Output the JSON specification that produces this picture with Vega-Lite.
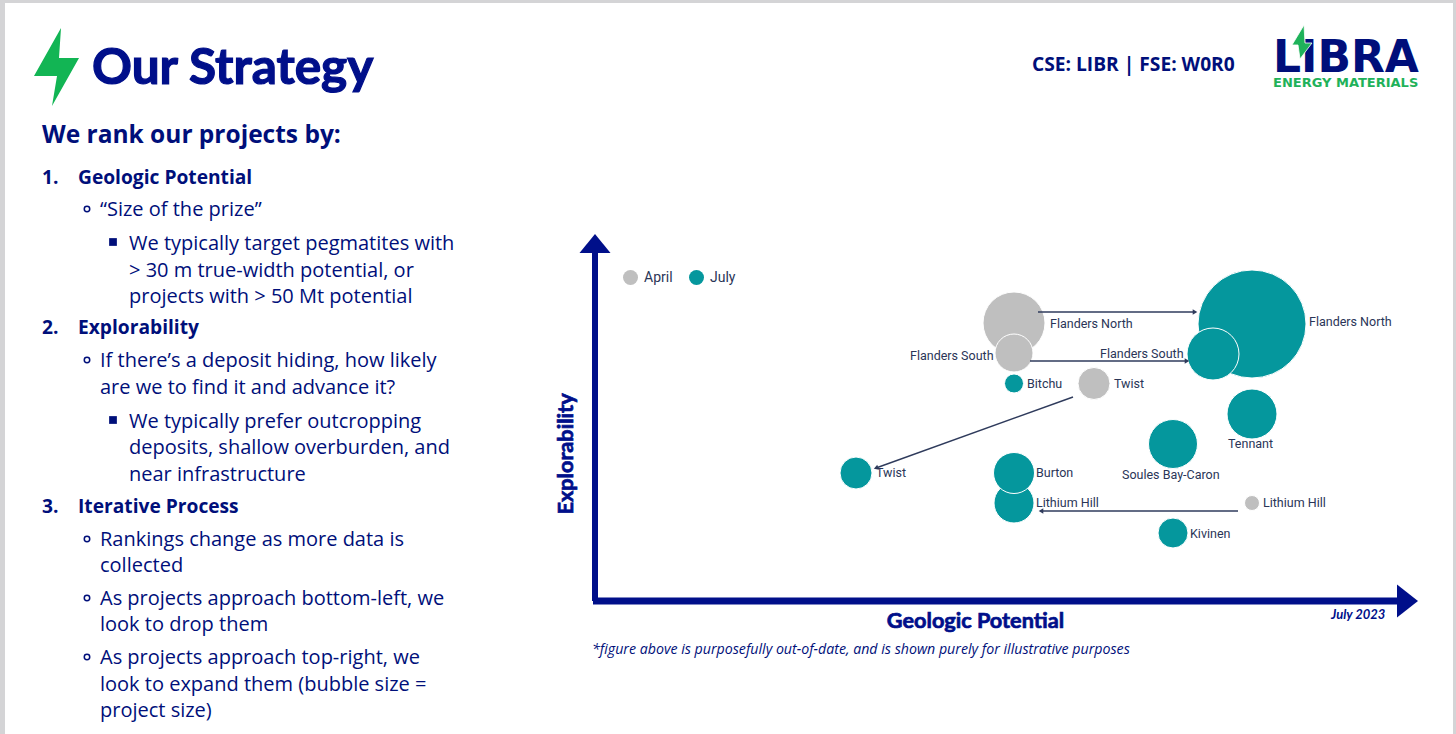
{
"$schema":"https://vega.github.io/schema/vega-lite/v6.json",
"width":1456,"height":734,
"autosize":{"type":"fit","contains":"padding"},
"padding":0,
"background":"#d4d4d6",
"config":{"view":{"stroke":null}},
"datasets":{
"sheet":[{"x":-73.75,"x2":107.25,"y":-16.625,"y2":74.75}],
"axesLines":[
{"x":-0.25,"x2":100.25,"y":0,"y2":0,"w":"x"},
{"x":0,"x2":0,"y":0,"y2":43.5,"w":"y"}],
"bubbles":[
{"project":"Flanders North","period":"April","potential":52.375,"explorability":34.75,"projectSize":3844},
{"project":"Flanders South","period":"April","potential":52.375,"explorability":31.0,"projectSize":1444},
{"project":"Twist","period":"April","potential":62.375,"explorability":27.19,"projectSize":1024},
{"project":"Lithium Hill","period":"April","potential":82.125,"explorability":12.25,"projectSize":225},
{"project":"Flanders North","period":"July","potential":82.125,"explorability":34.625,"projectSize":11664},
{"project":"Flanders South","period":"July","potential":77.25,"explorability":30.875,"projectSize":2704},
{"project":"Bitchu","period":"July","potential":52.375,"explorability":27.19,"projectSize":361},
{"project":"Tennant","period":"July","potential":82.125,"explorability":23.375,"projectSize":2500},
{"project":"Soules Bay-Caron","period":"July","potential":72.25,"explorability":19.625,"projectSize":2401},
{"project":"Lithium Hill","period":"July","potential":52.375,"explorability":12.25,"projectSize":1600},
{"project":"Burton","period":"July","potential":52.375,"explorability":16.0,"projectSize":1681},
{"project":"Twist","period":"July","potential":32.625,"explorability":16.0,"projectSize":1024},
{"project":"Kivinen","period":"July","potential":72.25,"explorability":8.5,"projectSize":900}],
"bubbleLabels":[
{"text":"Flanders North","x":56.875,"y":34.125},
{"text":"Flanders North","x":89.25,"y":34.375},
{"text":"Flanders South","x":39.375,"y":30.125},
{"text":"Flanders South","x":63.125,"y":30.375},
{"text":"Bitchu","x":54,"y":26.625},
{"text":"Twist","x":64.875,"y":26.625},
{"text":"Tennant","x":79.125,"y":19.125},
{"text":"Soules Bay-Caron","x":65.875,"y":15.25},
{"text":"Burton","x":55.125,"y":15.5},
{"text":"Lithium Hill","x":55.125,"y":11.75},
{"text":"Twist","x":35.125,"y":15.5},
{"text":"Lithium Hill","x":83.5,"y":11.75},
{"text":"Kivinen","x":74.375,"y":7.875}],
"moves":[
{"project":"Flanders North","x":55.375,"y":36.125,"x2":75,"y2":36.125,"heading":90},
{"project":"Flanders South","x":54.375,"y":30,"x2":74,"y2":30,"heading":90},
{"project":"Twist","x":59.75,"y":25.5,"x2":35.125,"y2":16.625,"heading":250},
{"project":"Lithium Hill","x":80.375,"y":11.25,"x2":55.75,"y2":11.25,"heading":270}],
"body":[
{"text":"“Size of the prize”","x":-61.875,"y":48.125},
{"text":"We typically target pegmatites with","x":-58.25,"y":43.875},
{"text":"> 30 m true-width potential, or","x":-58.25,"y":40.5},
{"text":"projects with > 50 Mt potential","x":-58.25,"y":37.25},
{"text":"If there’s a deposit hiding, how likely","x":-61.875,"y":29.25},
{"text":"are we to find it and advance it?","x":-61.875,"y":25.875},
{"text":"We typically prefer outcropping","x":-58.25,"y":21.625},
{"text":"deposits, shallow overburden, and","x":-58.25,"y":18.375},
{"text":"near infrastructure","x":-58.25,"y":15},
{"text":"Rankings change as more data is","x":-61.875,"y":6.875},
{"text":"collected","x":-61.875,"y":3.625},
{"text":"As projects approach bottom-left, we","x":-61.875,"y":-0.5},
{"text":"look to drop them","x":-61.875,"y":-3.75},
{"text":"As projects approach top-right, we","x":-61.875,"y":-7.875},
{"text":"look to expand them (bubble size =","x":-61.875,"y":-11.25},
{"text":"project size)","x":-61.875,"y":-14.5}],
"boldList":[
{"text":"1.","x":-69.125,"y":52.125},{"text":"Geologic Potential","x":-64.625,"y":52.125},
{"text":"2.","x":-69.125,"y":33.375},{"text":"Explorability","x":-64.625,"y":33.375},
{"text":"3.","x":-69.125,"y":11},{"text":"Iterative Process","x":-64.625,"y":11}],
"rings":[{"x":-63.5,"y":49},{"x":-63.5,"y":30.125},{"x":-63.5,"y":7.75},{"x":-63.5,"y":0.375},{"x":-63.5,"y":-7}],
"squares":[{"x":-60.25,"y":44.875},{"x":-60.25,"y":22.625}]
},
"data":{"name":"sheet"},
"encoding":{
"x":{"field":"x","type":"quantitative","scale":{"domain":[-74.375,107.625],"nice":false,"zero":false},"axis":null},
"y":{"field":"y","type":"quantitative","scale":{"domain":[-16.625,75.125],"nice":false,"zero":false},"axis":null}
},
"layer":[
{"mark":{"type":"rect","fill":"#ffffff"},"encoding":{"x2":{"field":"x2"},"y2":{"field":"y2"}}},
{"data":{"name":"axesLines"},"transform":[{"filter":"datum.w=='x'"}],"mark":{"type":"rule","color":"#000f8a","strokeWidth":7},"encoding":{"x2":{"field":"x2"}}},
{"data":{"name":"axesLines"},"transform":[{"filter":"datum.w=='y'"}],"mark":{"type":"rule","color":"#000f8a","strokeWidth":6},"encoding":{"y2":{"field":"y2"}}},
{"data":{"values":[{"x":0,"y":44.6875}]},"mark":{"type":"point","filled":true,"opacity":1,"color":"#000f8a","size":961,"strokeWidth":0,"shape":"M0,-0.61L1,0.61L-1,0.61Z"}},
{"data":{"values":[{"x":101.5625,"y":0}]},"mark":{"type":"point","filled":true,"opacity":1,"color":"#000f8a","size":1089,"strokeWidth":0,"shape":"M-0.636,-1L0.636,0L-0.636,1Z"}},
{"data":{"name":"bubbles"},"mark":{"type":"point","shape":"circle","filled":true,"opacity":1,"stroke":"#ffffff","strokeWidth":1},"encoding":{
"x":{"field":"potential","type":"quantitative"},
"y":{"field":"explorability","type":"quantitative"},
"size":{"field":"projectSize","type":"quantitative","scale":null},
"color":{"field":"period","type":"nominal","scale":{"domain":["April","July"],"range":["#bfbfbf","#05979d"]},
"legend":{"title":null,"orient":"none","legendX":623,"legendY":270,"direction":"horizontal","symbolType":"circle","symbolSize":225,"symbolStrokeWidth":0,"labelFont":"Roboto","labelFontSize":14,"labelColor":"#2a3557","columnPadding":16,"labelOffset":6}}
}},
{"data":{"name":"moves"},"mark":{"type":"rule","color":"#2f3b5c","strokeWidth":1.4},"encoding":{"x2":{"field":"x2"},"y2":{"field":"y2"}}},
{"data":{"name":"moves"},"mark":{"type":"point","shape":"triangle-up","filled":true,"opacity":1,"color":"#2f3b5c","size":28,"strokeWidth":0},"encoding":{
"x":{"field":"x2","type":"quantitative"},"y":{"field":"y2","type":"quantitative"},"angle":{"field":"heading","type":"quantitative","scale":null}}},
{"data":{"name":"bubbleLabels"},"mark":{"type":"text","font":"Roboto","fontSize":12.5,"color":"#2a3557","align":"left","baseline":"alphabetic"},"encoding":{"text":{"field":"text"}}},
{"data":{"name":"body"},"mark":{"type":"text","font":"Open Sans","fontSize":20,"color":"#000f7a","align":"left","baseline":"alphabetic"},"encoding":{"text":{"field":"text"}}},
{"data":{"name":"boldList"},"mark":{"type":"text","font":"Open Sans","fontSize":19.2,"fontWeight":"bold","color":"#000f7a","align":"left","baseline":"alphabetic"},"encoding":{"text":{"field":"text"}}},
{"data":{"name":"rings"},"mark":{"type":"point","shape":"circle","filled":false,"opacity":1,"color":"#000f7a","size":30,"strokeWidth":1.5}},
{"data":{"name":"squares"},"mark":{"type":"point","shape":"square","filled":true,"opacity":1,"color":"#000f7a","size":60,"strokeWidth":0}},
{"data":{"values":[{"text":"We rank our projects by:","x":-69.125,"y":57.25}]},"mark":{"type":"text","font":"Open Sans","fontSize":24.5,"fontWeight":"bold","color":"#000f7a","align":"left","baseline":"alphabetic"},"encoding":{"text":{"field":"text"}}},
{"data":{"values":[{"text":"Our Strategy","x":-62.875,"y":64.625}]},"mark":{"type":"text","font":"Lato","fontSize":49.5,"fontWeight":"bold","color":"#000f8a","stroke":"#000f8a","strokeWidth":1.2,"align":"left","baseline":"alphabetic"},"encoding":{"text":{"field":"text"}}},
{"data":{"values":[{"x":-67.3125,"y":66.75}]},"mark":{"type":"point","filled":true,"opacity":1,"color":"#12b554","size":6241,"strokeWidth":0,"shape":"M0.114,-0.987L-0.57,0.228L0.013,0.228L-0.114,0.987L0.57,-0.228L0.063,-0.228Z"}},
{"data":{"values":[{"text":"CSE: LIBR | FSE: W0R0","x":54.625,"y":66.25}]},"mark":{"type":"text","font":"Open Sans","fontSize":19.2,"fontWeight":"bold","color":"#000f7a","align":"left","baseline":"alphabetic"},"encoding":{"text":{"field":"text"}}},
{"data":{"values":[{"text":"LIBRA","x":84.75,"y":66.125}]},"mark":{"type":"text","font":"DejaVu Sans","fontSize":44,"fontWeight":"bold","color":"#000f7a","align":"left","baseline":"alphabetic"},"encoding":{"text":{"field":"text"}}},
{"data":{"values":[{"x":88.375,"y":69.875}]},"mark":{"type":"point","filled":true,"opacity":1,"color":"#1fb25a","size":1156,"stroke":"#ffffff","strokeWidth":0.8,"shape":"M0.118,-1L-0.588,0.176L-0.235,0.176L-0.118,1L0.588,0.059L0.176,0.059Z"}},
{"data":{"values":[{"text":"ENERGY MATERIALS","x":84.75,"y":64.25}]},"mark":{"type":"text","font":"DejaVu Sans","fontSize":13,"fontWeight":"bold","color":"#1fb25a","align":"left","baseline":"alphabetic"},"encoding":{"text":{"field":"text"}}},
{"data":{"values":[{"text":"Geologic Potential","x":47.56,"y":-3.375}]},"mark":{"type":"text","font":"Lato","fontSize":21.7,"fontWeight":"bold","color":"#000f8a","stroke":"#000f8a","strokeWidth":0.7,"align":"center","baseline":"alphabetic"},"encoding":{"text":{"field":"text"}}},
{"data":{"values":[{"text":"Explorability","x":-2.75,"y":18.375}]},"mark":{"type":"text","font":"Lato","fontSize":21.7,"fontWeight":"bold","color":"#000f8a","stroke":"#000f8a","strokeWidth":0.7,"align":"center","baseline":"alphabetic","angle":270},"encoding":{"text":{"field":"text"}}},
{"data":{"values":[{"text":"July 2023","x":92,"y":-2.25}]},"mark":{"type":"text","font":"Lato","fontSize":13,"fontWeight":"bold","fontStyle":"italic","color":"#000f8a","align":"left","baseline":"alphabetic"},"encoding":{"text":{"field":"text"}}},
{"data":{"values":[{"text":"*figure above is purposefully out-of-date, and is shown purely for illustrative purposes","x":-0.375,"y":-6.625}]},"mark":{"type":"text","font":"Open Sans","fontSize":14.2,"fontStyle":"italic","color":"#000f7a","align":"left","baseline":"alphabetic"},"encoding":{"text":{"field":"text"}}}
]
}
